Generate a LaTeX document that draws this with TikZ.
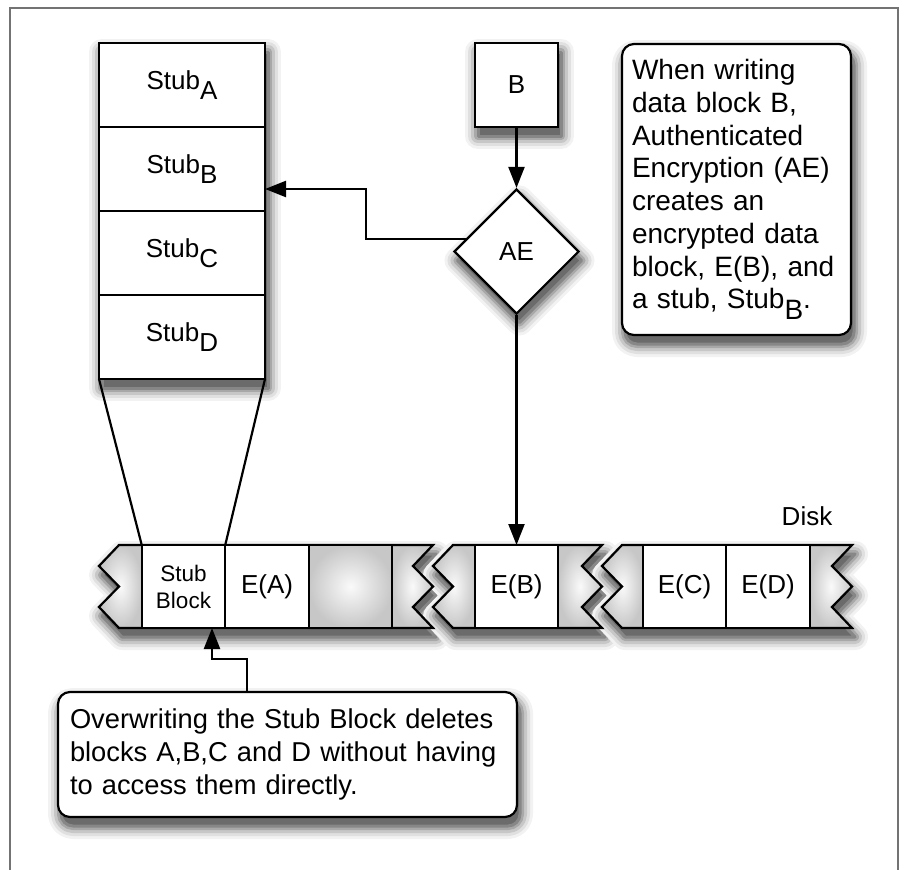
\documentclass[tikz,border=0pt]{standalone}
\usepackage{fontspec}
\setmainfont{Liberation Sans}
\usetikzlibrary{positioning,shapes.geometric,arrows.meta,backgrounds}

\newcommand{\labelfont}{\fontsize{26}{30}\selectfont}
\newcommand{\notefont}{\fontsize{28}{32.7}\selectfont}
\newcommand{\smallfont}{\fontsize{22.5}{27}\selectfont}
\newcommand{\stubof}[1]{Stub\raisebox{-0.38em}{#1}}

% one disk segment: #1 left zigzag, #2 first cell, #3 last cell, #4 right zigzag
\newcommand{\disksegment}[4]{%
  \begin{scope}[on background layer]
    \fill[white, softshadow] ({#1+20},545) -- (#1,566) -- ({#1+20},586.5) -- (#1,607) -- ({#1+20},628)
      -- (#4,628) -- ({#4-20},607) -- (#4,586.5) -- ({#4-20},566) -- (#4,545) -- cycle;
  \end{scope}
  \shade[capshade] ({#1+20},545) -- (#1,566) -- ({#1+20},586.5) -- (#1,607) -- ({#1+20},628)
    -- (#2,628) -- (#2,545) -- cycle;
  \shade[capshade] (#3,545) -- (#3,628) -- (#4,628) -- ({#4-20},607) -- (#4,586.5)
    -- ({#4-20},566) -- (#4,545) -- cycle;
  \draw[segline] ({#1+20},545) -- (#1,566) -- ({#1+20},586.5) -- (#1,607) -- ({#1+20},628)
    -- (#4,628) -- ({#4-20},607) -- (#4,586.5) -- ({#4-20},566) -- (#4,545) -- cycle;
}

\begin{document}
\begin{tikzpicture}[x=1pt, y=-1pt,
    line width=2.2pt,
    every node/.style={font=\labelfont},
    box/.style={draw, fill=white, inner sep=0pt, outer sep=0pt},
    shadowpass/.style 2 args={draw=#2, fill=black!58, line width=#1, line join=round,
        transform canvas={shift={(3pt,-9pt)}}},
    softshadow/.style={preaction={shadowpass={26pt}{black!5}},
        preaction={shadowpass={20pt}{black!12}},
        preaction={shadowpass={14pt}{black!22}},
        preaction={shadowpass={8pt}{black!34}},
        preaction={shadowpass={3pt}{black!47}}},
    stubrow/.style={box, minimum width=166pt, minimum height=84pt},
    cell/.style={draw, inner sep=0pt, outer sep=0pt, minimum width=83.5pt, minimum height=83pt},
    note/.style={box, rounded corners=12pt, align=left, softshadow},
    arrow/.style={-{Triangle[length=21pt,width=16pt]}},
    segline/.style={line join=miter},
    capshade/.style={inner color=black!2, outer color=black!22}]

  \useasboundingbox (0,0) rectangle (901,870);
  % page frame, open at the bottom
  \draw[black!55, line width=2pt] (10,870) -- (10,8) -- (898,8) -- (898,870);

  % stub table
  \node[stubrow] (stubA) at (182,85) {\stubof{A}};
  \node[stubrow, below=0pt of stubA] (stubB) {\stubof{B}};
  \node[stubrow, below=0pt of stubB] (stubC) {\stubof{C}};
  \node[stubrow, below=0pt of stubC] (stubD) {\stubof{D}};
  \begin{scope}[on background layer]
    \fill[white, softshadow] (stubA.north west) rectangle (stubD.south east);
  \end{scope}

  % data block and AE
  \node[box, softshadow, minimum width=83pt, minimum height=84pt] (B) at (516.5,85) {B};
  \node[draw, fill=white, diamond, aspect=1, inner sep=0pt, minimum size=125pt,
        softshadow] (AE) at (516.5,251.5) {AE};

  % notes
  \node[note, font=\notefont, text width=209pt, inner sep=10pt, minimum height=291pt]
    (aenote) at (736.5,189.5)
    {When writing\\data block B,\\Authenticated\\Encryption (AE)\\creates an\\encrypted data\\block, E(B), and\\a stub, \stubof{B}.};
  \node[note, font=\fontsize{27.3}{32.7}\selectfont, text width=435pt, inner sep=12pt,
        minimum height=125pt] (delnote) at (287.5,754.5)
    {Overwriting the Stub Block deletes\\blocks A,B,C and D without having\\to access them directly.};

  % disk
  \node (disk) at (807,516) {Disk};
  \disksegment{99}{142}{392}{433}
  \disksegment{433}{475}{558}{602}
  \disksegment{602}{643}{810}{852}
  \node[cell, fill=white, font=\smallfont, align=center] (stubblk) at (183.5,586.5) {Stub\\Block};
  \node[cell, fill=white, right=0pt of stubblk] (ea) {E(A)};
  \node[cell, shade, capshade, right=0pt of ea] (blank) {};
  \node[cell, fill=white] (eb) at (516.5,586.5) {E(B)};
  \node[cell, fill=white] (ec) at (684.5,586.5) {E(C)};
  \node[cell, fill=white, right=0pt of ec] (ed) {E(D)};

  % connectors
  \draw (stubD.south west) -- (stubblk.north west);
  \draw (stubD.south east) -- (stubblk.north east);
  \draw[arrow] (B) -- (AE);
  \coordinate (turn) at (366,189);
  \draw[arrow] (AE.166) -| (turn) -- (turn -| stubB.east);
  \draw[arrow] (AE) -- (eb);
  \coordinate (kink) at (247,659);
  \draw[arrow] (kink |- delnote.north) -- (kink) -| ([xshift=28.5pt]stubblk.south);
\end{tikzpicture}
\end{document}
